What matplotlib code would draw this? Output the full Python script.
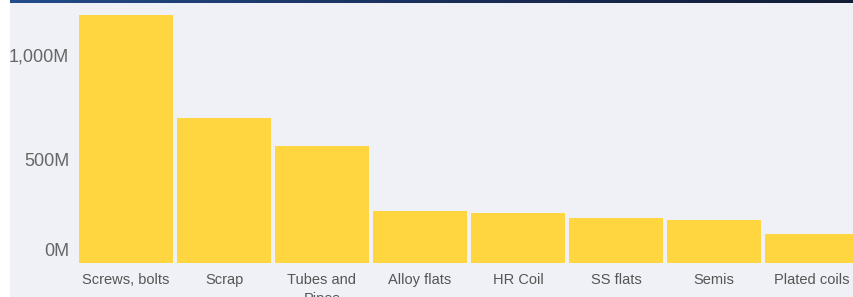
import numpy as np
import matplotlib.pyplot as plt
import matplotlib.transforms as mtransforms
from matplotlib.patches import Rectangle
from matplotlib.colors import LinearSegmentedColormap
from matplotlib.ticker import FuncFormatter

categories = ['Screws, bolts', 'Scrap', 'Tubes and\nPipes', 'Alloy flats',
              'HR Coil', 'SS flats', 'Semis', 'Plated coils']
values = [1192, 697, 562, 250, 240, 216, 207, 139]  # millions

W, H = 854, 297
bg = '#f0f1f6'
fig = plt.figure(figsize=(W / 100, H / 100), dpi=100, facecolor=bg)

# white strip on the left, dark band on top
fig.patches.append(Rectangle((0, 0), 10 / W, 1, transform=fig.transFigure,
                             facecolor='white', edgecolor='none', zorder=0))
band = fig.add_axes([10 / W, 1 - 3 / H, 1 - 10 / W, 3 / H])
cmap = LinearSegmentedColormap.from_list('band', ['#234c8a', '#1a2f5a', '#131d35'])
band.imshow(np.linspace(0, 1, 256)[None, :], aspect='auto', cmap=cmap)
band.axis('off')

left_px, bottom_px, top_px = 74, 263, 3
ax = fig.add_axes([left_px / W, (H - bottom_px) / H, 1 - left_px / W,
                   (bottom_px - top_px) / H])
ax.set_facecolor(bg)

x = np.arange(len(categories))
ax.bar(x, values, width=0.96, color='#ffd640', edgecolor='none')

ax.set_xlim((left_px - 126) / 98, (W - 126) / 98)
ax.set_ylim(0, 1250)
ax.set_yticks([0, 500, 1000])
ax.yaxis.set_major_formatter(FuncFormatter(lambda v, p: f'{int(v):,}M'))
ax.set_xticks(x)
ax.set_xticklabels(categories, family='Liberation Sans',
                   fontsize=10.5, color='#555555', linespacing=1.45)

ax.tick_params(axis='y', length=0, pad=3.5)
ax.tick_params(axis='x', length=0, pad=7.5)
for s in ax.spines.values():
    s.set_visible(False)

ylabs = ax.get_yticklabels()
for lab in ylabs:
    lab.set_family('Liberation Sans')
    lab.set_fontsize(13)
    lab.set_color('#666666')
# the zero label sits a little above the baseline
ylabs[0].set_transform(ylabs[0].get_transform() +
                       mtransforms.ScaledTranslation(0, 13 / 100, fig.dpi_scale_trans))

fig.savefig('out.png', dpi=100, facecolor=bg)
